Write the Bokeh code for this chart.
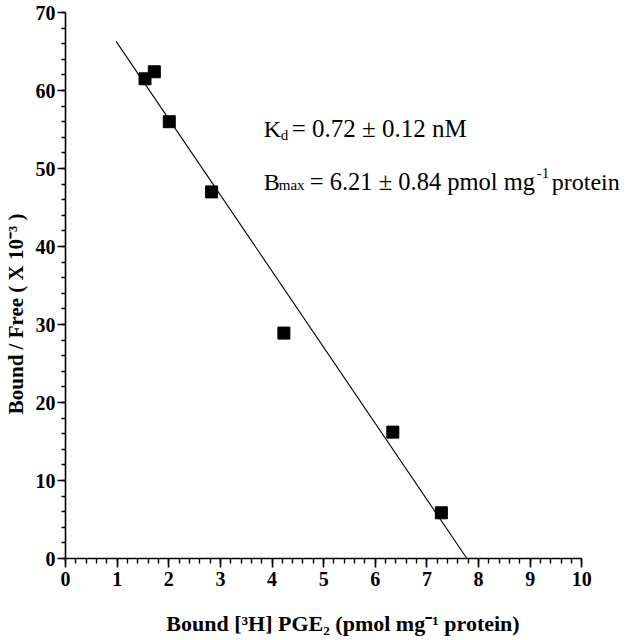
import numpy as np
from bokeh.plotting import figure
from bokeh.models import Label, Range1d, FixedTicker
from bokeh.embed import file_html
from bokeh.resources import INLINE

# Scatchard data
bound = [1.54, 1.72, 2.01, 2.83, 4.23, 6.34, 7.28]
bound_free = [61.5, 62.4, 56.0, 47.0, 28.9, 16.2, 5.86]

# fitted line start (x)
fit_x_start = 0.98
x_ticks = list(range(0, 11))
y_ticks = list(range(0, 71, 10))

slope, intercept = np.polyfit(bound, bound_free, 1)
x_end = -intercept / slope
fit_x = [fit_x_start, x_end]
fit_y = [slope * fit_x_start + intercept, 0.0]

SERIF = "Liberation Serif"

p = figure(width=620, height=640, output_backend="svg", toolbar_location=None,
           x_range=Range1d(0, 10.75), y_range=Range1d(0, 70),
           min_border_left=63, min_border_right=0, min_border_top=12, min_border_bottom=82)
p.outline_line_color = None
p.grid.grid_line_color = None
p.background_fill_color = "white"

p.line(fit_x, fit_y, line_color="black", line_width=1.1)
p.scatter(bound, bound_free, marker="square", size=12, fill_color="black", line_color="black")

for ax in (p.xaxis[0], p.yaxis[0]):
    ax.axis_line_width = 1.6
    ax.major_tick_line_width = 1.6
    ax.minor_tick_line_width = 1.4
    ax.major_tick_in = 0
    ax.minor_tick_in = 0
    ax.major_label_text_font = SERIF
    ax.major_label_text_font_style = "bold"
    ax.major_label_text_font_size = "20px"
    ax.major_label_text_color = "black"
    ax.axis_line_color = "black"
    ax.major_tick_line_color = "black"
    ax.minor_tick_line_color = "black"
    ax.axis_label_text_font = SERIF
    ax.axis_label_text_font_style = "bold"
    ax.axis_label_text_color = "black"

p.xaxis.bounds = (0, 10)
p.xaxis.ticker = FixedTicker(ticks=x_ticks, minor_ticks=list(np.arange(0, 10.01, 0.2)))
p.yaxis.ticker = FixedTicker(ticks=y_ticks, minor_ticks=list(range(0, 71, 2)))
p.xaxis.major_tick_out = 9
p.xaxis.minor_tick_out = 5
p.yaxis.major_tick_out = 8
p.yaxis.minor_tick_out = 4
p.yaxis.major_label_standoff = 2
p.xaxis.major_label_standoff = 4

p.xaxis.axis_label = "Bound [³H] PGE₂ (pmol mg⁻¹ protein)"
p.xaxis.axis_label_text_font_size = "22px"
p.xaxis.axis_label_standoff = 22

p.yaxis.axis_label = "Bound / Free ( X 10⁻³ )\u2003\u2003\u2002\u2009"
p.yaxis.axis_label_text_font_size = "21px"
p.yaxis.axis_label_standoff = 5

# annotation
ax0, ay1, ay2 = 3.84, 55.1, 48.3
def lab(text, y, xo, yo=0, size="25px"):
    p.add_layout(Label(x=ax0, y=y, x_offset=xo, y_offset=yo, text=text, text_font=SERIF,
                       text_font_size=size, text_baseline="alphabetic", text_align="left",
                       text_color="black"))

lab("K", ay1, 0, 0, "24px")
lab("d", ay1, 17, -6, "15px")
lab("= 0.72 ± 0.12 nM", ay1, 28)
lab("B", ay2, 0, 0, "24px")
lab("max", ay2, 15, -3, "15px")
lab("= 6.21 ± 0.84 pmol mg", ay2, 46, 0, "24.5px")
lab("-1", ay2, 273, 9, "15px")
lab("protein", ay2, 288, 0, "24px")

open("out.html", "w").write(file_html(p, INLINE))
